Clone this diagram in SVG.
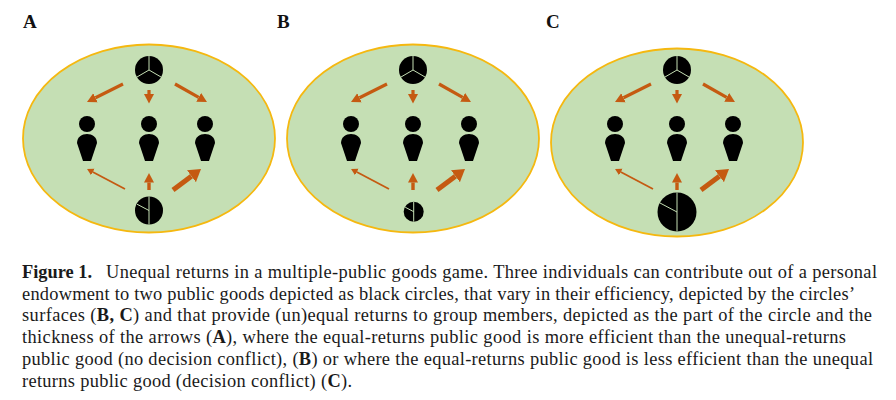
<svg xmlns="http://www.w3.org/2000/svg" width="896" height="400" viewBox="0 0 896 400">
<style>
.bg{fill:#c5dfb4;stroke:#f5b810;stroke-width:1.8}
.pie{fill:#000}
.div{stroke:#c5dfb4;stroke-width:1;fill:none}
.a1,.a2,.a3,.a4{stroke:#c55a11;fill:none}
.a1{stroke-width:3.2;marker-end:url(#hm)}
.a2{stroke-width:1.8;marker-end:url(#hs)}
.a3{stroke-width:3.4;marker-end:url(#hm)}
.a4{stroke-width:5;marker-end:url(#hl)}
.pl{font:bold 19px "Liberation Serif",serif;fill:#111}
.cap{font:18.4px "Liberation Serif",serif;fill:#1a1a1a}
.cap tspan,.capb{font-weight:bold}
</style>
<defs>
<marker id="hm" markerUnits="userSpaceOnUse" markerWidth="12" markerHeight="12" refX="0" refY="6" orient="auto"><path d="M0,1L9.5,6L0,11Z" fill="#c55a11"/></marker>
<marker id="hs" markerUnits="userSpaceOnUse" markerWidth="8" markerHeight="8" refX="0" refY="4" orient="auto"><path d="M0,0.3L6.5,4L0,7.7Z" fill="#c55a11"/></marker>
<marker id="hl" markerUnits="userSpaceOnUse" markerWidth="14" markerHeight="16" refX="0" refY="8" orient="auto"><path d="M0,0.5L12,8L0,15.5Z" fill="#c55a11"/></marker>
<g id="person"><circle cx="0" cy="124" r="8" fill="#000"/><path d="M-4,161L-10,143C-10,137-5,134 0,134C5,134 10,137 10,143L4,161Z" fill="#000"/></g>
<g id="pie3"><circle r="14" class="pie"/><path class="div" d="M0,-14V0M0,0L-12,7M0,0L12,7"/></g>
</defs>

<g id="panel-a-bg"><ellipse class="bg" cx="149" cy="138.5" rx="126" ry="94"/></g>
<g id="panel-b-bg"><ellipse class="bg" cx="413" cy="138.5" rx="126" ry="94"/></g>
<g id="panel-c-bg"><ellipse class="bg" cx="677" cy="142.5" rx="126" ry="94"/></g>

<g id="connectors">
<g id="conn-a">
<path class="a1" d="M123,84L95.5,97.75"/><path class="a1" d="M149,90V94"/><path class="a1" d="M175,84L198.7,97.3"/>
<path class="a2" d="M125,189L92.8,172"/><path class="a3" d="M149,190V182.5"/><path class="a4" d="M173,190L191.4,176.2"/>
</g>
<g id="conn-b" transform="translate(264,0)">
<path class="a1" d="M123,84L95.5,97.75"/><path class="a1" d="M149,90V94"/><path class="a1" d="M175,84L198.7,97.3"/>
<path class="a2" d="M125,189L92.8,172"/><path class="a3" d="M149,190V182.5"/><path class="a4" d="M173,190L191.4,176.2"/>
</g>
<g id="conn-c" transform="translate(528,0)">
<path class="a1" d="M123,84L95.5,97.75"/><path class="a1" d="M149,90V94"/><path class="a1" d="M175,84L198.7,97.3"/>
<path class="a2" d="M125,189L92.8,172"/><path class="a3" d="M149,190V182.5"/><path class="a4" d="M173,190L191.4,176.2"/>
</g>
</g>

<g id="a-top" transform="translate(149,70)"><use href="#pie3"/></g>
<g id="a-p1" transform="translate(87,0)"><use href="#person"/></g>
<g id="a-p2" transform="translate(149,0)"><use href="#person"/></g>
<g id="a-p3" transform="translate(205,0)"><use href="#person"/></g>
<g id="a-bottom" transform="translate(149,210.5)"><circle r="14" class="pie"/><path class="div" d="M0,-14V14M0,0L-12,-6.3"/></g>

<g id="b-top" transform="translate(413,70)"><use href="#pie3"/></g>
<g id="b-p1" transform="translate(351,0)"><use href="#person"/></g>
<g id="b-p2" transform="translate(413,0)"><use href="#person"/></g>
<g id="b-p3" transform="translate(469,0)"><use href="#person"/></g>
<g id="b-bottom" transform="translate(413.7,211.7)"><circle r="10" class="pie"/><path class="div" d="M0,-10V10M0,0L-8.5,-4.5"/></g>

<g id="c-top" transform="translate(677,70)"><use href="#pie3"/></g>
<g id="c-p1" transform="translate(615,0)"><use href="#person"/></g>
<g id="c-p2" transform="translate(677,0)"><use href="#person"/></g>
<g id="c-p3" transform="translate(733,0)"><use href="#person"/></g>
<g id="c-bottom" transform="translate(677,212)"><circle r="19.5" class="pie"/><path class="div" d="M0,-19.5V19.5M0,0L-17,-9"/></g>

<text class="pl" x="23" y="27.5">A</text>
<text class="pl" x="277" y="27.5">B</text>
<text class="pl" x="546" y="27.5">C</text>

<text class="cap capb" x="22" y="278" textLength="70">Figure 1.</text>
<text class="cap" x="106" y="278" textLength="771">Unequal returns in a multiple-public goods game. Three individuals can contribute out of a personal</text>
<text class="cap" x="22" y="299.7" textLength="833">endowment to two public goods depicted as black circles, that vary in their efficiency, depicted by the circles’</text>
<text class="cap" x="22" y="321.4" textLength="850">surfaces (<tspan>B, C</tspan>) and that provide (un)equal returns to group members, depicted as the part of the circle and the</text>
<text class="cap" x="22" y="343.1" textLength="824">thickness of the arrows (<tspan>A</tspan>), where the equal-returns public good is more efficient than the unequal-returns</text>
<text class="cap" x="22" y="364.8" textLength="851">public good (no decision conflict), (<tspan>B</tspan>) or where the equal-returns public good is less efficient than the unequal</text>
<text class="cap" x="22" y="386.5" textLength="330">returns public good (decision conflict) (<tspan>C</tspan>).</text>
</svg>
